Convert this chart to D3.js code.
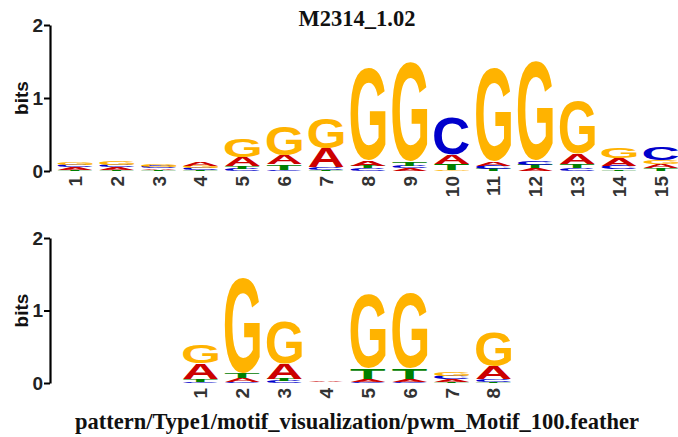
<!DOCTYPE html>
<html><head><meta charset="utf-8">
<script src="https://cdn.jsdelivr.net/npm/d3@7"></script>
<style>body{margin:0;background:#fff} svg{display:block}</style>
</head><body><svg id="chart" width="678" height="437"></svg>
<script>
// ---------- data ----------
const topTitle = "M2314_1.02";
const bottomTitle = "pattern/Type1/motif_visualization/pwm_Motif_100.feather";
const bitTicks = [0, 1, 2];
const bases = ["A", "C", "G", "T"];
const baseColors = ["#CC0000", "#0000CC", "#FFB300", "#008000"];

const topPositions = ["1","2","3","4","5","6","7","8","9","10","11","12","13","14","15"];
const topA = [0.030, 0.030, 0.020, 0.045, 0.120, 0.125, 0.260, 0.065, 0.035, 0.120, 0.060, 0.040, 0.140, 0.110, 0.055];
const topC = [0.035, 0.035, 0.025, 0.025, 0.030, 0.020, 0.030, 0.035, 0.040, 0.500, 0.045, 0.055, 0.040, 0.050, 0.175];
const topG = [0.040, 0.055, 0.035, 0.030, 0.250, 0.390, 0.420, 1.270, 1.360, 0.020, 1.280, 1.350, 0.720, 0.150, 0.060];
const topT = [0.020, 0.020, 0.015, 0.015, 0.035, 0.070, 0.020, 0.040, 0.050, 0.080, 0.030, 0.045, 0.050, 0.020, 0.035];

const bottomPositions = ["1","2","3","4","5","6","7","8"];
const bottomOffset = 3; // alignment of the second motif under the first
const bottomA = [0.215, 0.045, 0.210, 0.008, 0.030, 0.030, 0.030, 0.180];
const bottomC = [0.020, 0.020, 0.025, 0.003, 0.020, 0.020, 0.045, 0.030];
const bottomG = [0.245, 1.300, 0.575, 0.003, 1.010, 1.030, 0.050, 0.470];
const bottomT = [0.040, 0.070, 0.030, 0.006, 0.150, 0.150, 0.020, 0.020];

// ---------- setup ----------
const svg = d3.select("#chart");
const SANS = "'Liberation Sans', Arial, Helvetica, sans-serif";
const SERIF = "'Liberation Serif', 'Times New Roman', Times, serif";

const x = d3.scaleLinear().domain([1, 15]).range([75, 661]);
const letterW = 35;

// glyph ink bounds
const cv = document.createElement("canvas");
const ctx = cv.getContext("2d");
ctx.font = "bold 100px " + SANS;
const ink = {};
bases.forEach(b => {
  const m = ctx.measureText(b);
  ink[b] = { l: -m.actualBoundingBoxLeft, r: m.actualBoundingBoxRight,
             t: -m.actualBoundingBoxAscent, b: m.actualBoundingBoxDescent };
});

function drawPanel(cfg) {
  const y = d3.scaleLinear().domain([0, 2]).range([cfg.y0, cfg.y2]);
  const g = svg.append("g");

  // y axis
  const ax = g.append("g")
    .attr("transform", `translate(50,0)`)
    .call(d3.axisLeft(y).tickValues(bitTicks).tickFormat(d3.format("d")).tickSize(6).tickSizeOuter(0).tickPadding(1));
  ax.select(".domain").attr("stroke", "#000").attr("stroke-width", 2.2);
  ax.selectAll(".tick line").attr("stroke", "#000").attr("stroke-width", 2);
  ax.selectAll(".tick text").attr("font-family", SANS).attr("font-weight", "bold")
    .attr("font-size", 19).attr("fill", "#222");

  g.append("text")
    .attr("transform", `translate(28,${(cfg.y0 + cfg.y2) / 2}) rotate(-90)`)
    .attr("text-anchor", "middle")
    .attr("font-family", SANS).attr("font-weight", "bold").attr("font-size", 19)
    .attr("fill", "#111")
    .text("bits");

  // letters
  const series = [cfg.A, cfg.C, cfg.G, cfg.T];
  cfg.positions.forEach((p, i) => {
    const xc = x(i + 1 + cfg.offset);
    const rows = bases.map((b, k) => ({ b, k, v: series[k][i] })).sort((a, c) => a.v - c.v);
    let cum = 0;
    rows.forEach(r => {
      const yb = y(cum), yt = y(cum + r.v);
      cum += r.v;
      const H = yb - yt;
      if (H <= 0) return;
      const bx = ink[r.b];
      const X = xc - letterW / 2;
      g.append("text")
        .text(r.b)
        .attr("font-family", SANS).attr("font-weight", "bold").attr("font-size", 100)
        .attr("fill", baseColors[r.k])
        .attr("transform", `translate(${X},${yt}) scale(${letterW / (bx.r - bx.l)},${H / (bx.b - bx.t)}) translate(${-bx.l},${-bx.t})`);
    });
    // x tick label
    const fs = 19;
    g.append("text")
      .attr("transform", `translate(${xc + fs * 0.36},${cfg.y0 + 5}) rotate(-90)`)
      .attr("text-anchor", "end")
      .attr("font-family", SANS).attr("font-weight", "bold").attr("font-size", fs)
      .attr("fill", "#333")
      .text(p);
  });
}

drawPanel({ y0: 171, y2: 25, positions: topPositions, offset: 0, A: topA, C: topC, G: topG, T: topT });
drawPanel({ y0: 383, y2: 238, positions: bottomPositions, offset: bottomOffset, A: bottomA, C: bottomC, G: bottomG, T: bottomT });

svg.append("text").attr("x", 357).attr("y", 26).attr("text-anchor", "middle")
  .attr("font-family", SERIF).attr("font-weight", "bold").attr("font-size", 22.5).attr("fill", "#111")
  .text(topTitle);
svg.append("text").attr("x", 357).attr("y", 429).attr("text-anchor", "middle")
  .attr("font-family", SERIF).attr("font-weight", "bold").attr("font-size", 22.5).attr("fill", "#111")
  .text(bottomTitle);
</script></body></html>
